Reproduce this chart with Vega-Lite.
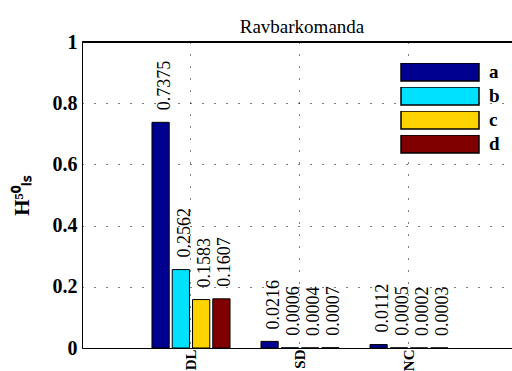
{
  "$schema": "https://vega.github.io/schema/vega-lite/v6.json",
  "width": 430,
  "height": 306,
  "autosize": {"type": "none"},
  "padding": {"left": 82, "top": 42, "right": 0, "bottom": 23},
  "background": "white",
  "config": {"view": {"stroke": null}},
  "title": {"text": "Ravbarkomanda", "font": "Liberation Serif", "fontSize": 19, "fontWeight": "normal", "color": "black", "frame": "group", "anchor": "middle", "offset": 0, "dx": 5, "dy": 5},
  "data": {"values": [
    {"cat": "DL", "series": "a", "value": 0.7375},
    {"cat": "DL", "series": "b", "value": 0.2562},
    {"cat": "DL", "series": "c", "value": 0.1583},
    {"cat": "DL", "series": "d", "value": 0.1607},
    {"cat": "SD", "series": "a", "value": 0.0216},
    {"cat": "SD", "series": "b", "value": 0.0006},
    {"cat": "SD", "series": "c", "value": 0.0004},
    {"cat": "SD", "series": "d", "value": 0.0007},
    {"cat": "NC", "series": "a", "value": 0.0112},
    {"cat": "NC", "series": "b", "value": 0.0005},
    {"cat": "NC", "series": "c", "value": 0.0002},
    {"cat": "NC", "series": "d", "value": 0.0003}
  ]},
  "layer": [
    {
      "mark": {"type": "bar", "stroke": "black", "strokeWidth": 1},
      "encoding": {
        "x": {"field": "cat", "type": "nominal", "sort": ["DL", "SD", "NC"],
          "scale": {"range": [0, 436], "paddingInner": 0.284, "paddingOuter": 0.642},
          "axis": {"title": null, "labelAngle": 270, "labelFont": "Liberation Serif", "labelFontSize": 15, "labelFontWeight": "bold", "labelColor": "black", "labelPadding": 1, "ticks": false, "bandPosition": 0.5, "domainColor": "black", "grid": true, "gridColor": "black", "gridDash": [1, 11], "gridOpacity": 1, "gridWidth": 1}},
        "xOffset": {"field": "series", "type": "nominal", "scale": {"paddingInner": 0.15, "paddingOuter": 0}},
        "y": {"field": "value", "type": "quantitative", "scale": {"domain": [0, 1], "nice": false},
          "axis": {"title": "H⁵⁰ₗₛ", "titleFont": "Liberation Serif", "titleFontSize": 21, "titleFontWeight": "bold", "titleColor": "black", "titlePadding": 20, "values": [0, 0.2, 0.4, 0.6, 0.8, 1], "format": "~g", "labelFont": "Liberation Serif", "labelFontSize": 20, "labelFontWeight": "bold", "labelColor": "black", "labelPadding": 5, "ticks": false, "domainColor": "black", "grid": true, "gridColor": "black", "gridDash": [1, 11], "gridOpacity": 1, "gridWidth": 1}},
        "color": {"field": "series", "type": "nominal",
          "scale": {"domain": ["a", "b", "c", "d"], "range": ["#000090", "#00E1FF", "#FFD300", "#800000"]},
          "legend": {"orient": "none", "legendX": 318, "legendY": 21, "title": null, "symbolType": "M-1,-0.23H1V0.23H-1Z", "symbolSize": 6084, "symbolStrokeColor": "black", "symbolStrokeWidth": 1.5, "symbolOpacity": 1, "labelFont": "Liberation Serif", "labelFontSize": 19, "labelFontWeight": "bold", "labelColor": "black", "labelOffset": 9, "clipHeight": 18, "rowPadding": 5, "padding": 0}}
      }
    },
    {
      "mark": {"type": "text", "angle": 270, "align": "left", "baseline": "middle", "dx": 12, "dy": 4, "font": "Liberation Serif", "fontSize": 18, "color": "black"},
      "encoding": {
        "x": {"field": "cat", "type": "nominal", "sort": ["DL", "SD", "NC"]},
        "xOffset": {"field": "series", "type": "nominal"},
        "y": {"field": "value", "type": "quantitative"},
        "text": {"field": "value", "type": "quantitative", "format": ".4f"}
      }
    },
    {
      "mark": {"type": "rule", "color": "black", "strokeWidth": 1},
      "encoding": {"y": {"datum": 1}}
    }
  ]
}
